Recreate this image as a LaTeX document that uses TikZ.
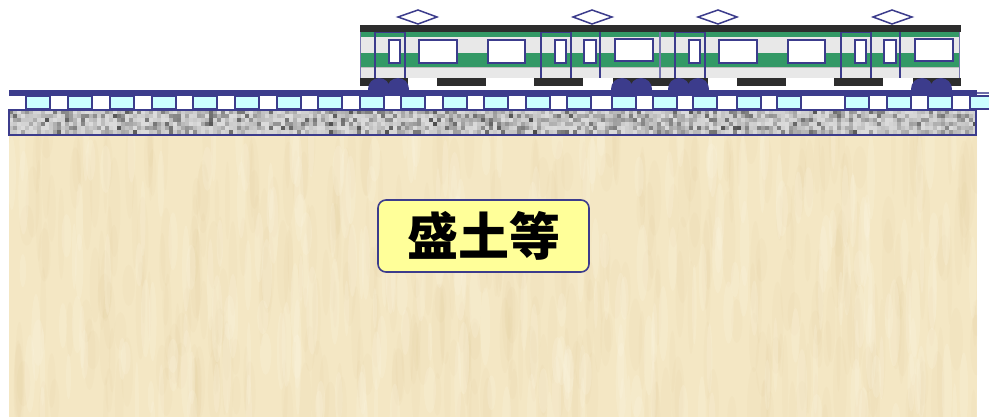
\documentclass[tikz,border=0pt]{standalone}
\usepackage{fontspec}
\newfontfamily\cjk{Noto Sans CJK JP}
\definecolor{navy}{RGB}{60,60,140}
\definecolor{stripe}{RGB}{51,153,102}
\definecolor{bodygray}{RGB}{232,232,232}
\definecolor{roof}{RGB}{45,45,45}
\definecolor{sleeper}{RGB}{204,255,255}
\definecolor{soil}{RGB}{244,231,196}
\definecolor{soildark}{RGB}{222,196,140}
\definecolor{soillight}{RGB}{252,246,226}
\definecolor{labelfill}{RGB}{255,255,153}
\begin{document}
\begin{tikzpicture}[x=1pt,y=-1pt,
  doorline/.style={draw=navy,line width=1.3pt},
  carend/.style={draw=navy!70,line width=1pt},
  pane/.style={fill=white,draw=navy,line width=1.6pt},
  pantograph/.style={fill=white,draw=navy,line width=1.5pt},
  sleeperbox/.style={fill=sleeper,draw=navy,line width=1.2pt},
  labelbox/.style={fill=labelfill,draw=navy,line width=1.6pt,rounded corners=8pt,
    minimum width=211pt,minimum height=72pt,inner sep=0pt,
    font=\cjk\bfseries\fontsize{51}{51}\selectfont}]
\useasboundingbox (0,0) rectangle (989,417);
\clip (0,0) rectangle (989,417);
\fill[white] (0,0) rectangle (989,417);

% embankment soil with soft vertical streaks
\fill[soil] (9,135) rectangle (977,417);
\begin{scope}
  \clip (9,135) rectangle (977,417);
  \pgfmathsetseed{4}
  \foreach \k in {1,...,420}{
    \pgfmathsetmacro\cx{9+968*rnd}
    \pgfmathsetmacro\cy{135+290*rnd}
    \pgfmathsetmacro\rx{2+5*rnd}
    \pgfmathsetmacro\ry{18+34*rnd}
    \fill[soildark,opacity=0.07] (\cx,\cy) ellipse [x radius=\rx, y radius=\ry];
  }
  \foreach \k in {1,...,260}{
    \pgfmathsetmacro\cx{9+968*rnd}
    \pgfmathsetmacro\cy{135+290*rnd}
    \pgfmathsetmacro\rx{2+4*rnd}
    \pgfmathsetmacro\ry{16+30*rnd}
    \fill[soillight,opacity=0.22] (\cx,\cy) ellipse [x radius=\rx, y radius=\ry];
  }
\end{scope}

% ballast layer: grey gravel speckle
\begin{scope}
  \clip (9,110) rectangle (976,135);
  \pgfmathsetseed{11}
  \foreach \i in {0,...,242}{
    \foreach \j in {0,...,6}{
      \pgfmathtruncatemacro\g{14+58*rnd*rnd}
      \fill[black!\g] (9+4*\i,110+4*\j) rectangle ++(4,4);
    }
  }
\end{scope}

% sleepers
\foreach \s in {26,68,110,152,193,235,277,318,360,401,443,484,526,567,612,653,693,737,777,845,887,928,970}
  \draw[sleeperbox] (\s,96) rectangle ++(24,13);

\draw[navy,line width=2pt] (9,110) rectangle (976,135);

% rail
\fill[navy] (9,90) rectangle (977,96);
\draw[navy!75,line width=1.6pt] (977,93) -- (989,93);

% roof running over both cars
\fill[roof] (360,25) rectangle (961,32);

% two identical cars
\foreach \o in {0,300}{
  \begin{scope}[xshift=\o pt]
    % underframe
    \fill[roof] (360,78) rectangle (408,86.5);
    \fill[roof] (437,78) rectangle (486,86.5);
    \fill[roof] (534,78) rectangle (583,86.5);
    \fill[roof] (613,78) rectangle (660.5,86.5);
    % bogies
    \begin{scope}
      \clip (0,0) rectangle (989,90);
      \fill[navy] (379,89) circle (11);
      \fill[navy] (398,89) circle (11);
      \fill[navy] (622,89) circle (11);
      \fill[navy] (641,89) circle (11);
    \end{scope}
    % body with green stripes
    \fill[bodygray] (360,32) rectangle (660,78);
    \fill[stripe] (360,32) rectangle (660,37.5);
    \fill[stripe] (360,53) rectangle (660,67);
    \draw[black!25,line width=0.6pt] (360,67.3) -- (660,67.3);
    % doors
    \draw[doorline] (375,78) -- (375,32.5) -- (405,32.5) -- (405,78);
    \draw[doorline] (541,78) -- (541,32.5) -- (571,32.5) -- (571,78);
    \draw[doorline] (600,78) -- (600,32.5);
    % windows
    \draw[pane] (389,40) rectangle (400,63);
    \draw[pane] (555,40) rectangle (566,63);
    \draw[pane] (584,40) rectangle (596,63);
    \draw[pane] (419,40) rectangle (457,63);
    \draw[pane] (488,40) rectangle (525,63);
    \draw[pane] (615,39) rectangle (653,61);
    % car ends
    \draw[carend] (360.5,32) -- (360.5,78);
    \draw[carend] (659.5,32) -- (659.5,78);
    % pantographs
    \draw[pantograph] (398,17) -- (418,10) -- (437,17) -- (418,24) -- cycle;
    \draw[pantograph] (573,17) -- (592,10) -- (612,17) -- (592,24) -- cycle;
  \end{scope}
}

% label
\node[labelbox] (fill) at (483.5,236) {盛土等};
\end{tikzpicture}
\end{document}
